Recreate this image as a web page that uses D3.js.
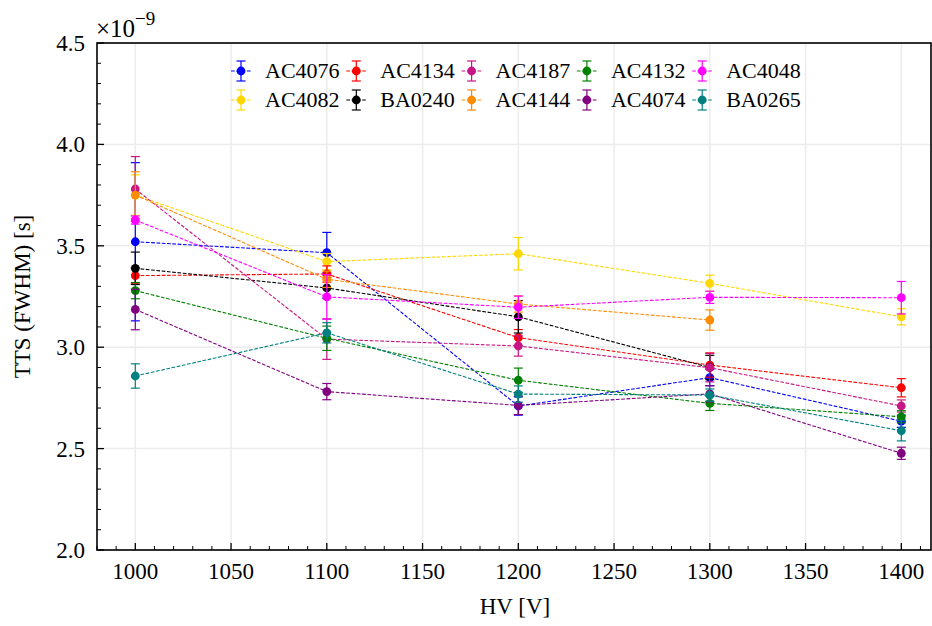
<!DOCTYPE html>
<html>
<head>
<meta charset="utf-8">
<script src="https://cdn.jsdelivr.net/npm/d3@7"></script>
<style>
  body { margin: 0; background: #fff; }
  svg text { font-family: "Liberation Serif", "DejaVu Serif", serif; fill: #000; }
</style>
</head>
<body>
<svg id="chart" width="932" height="626"></svg>
<script>
// HV steps
var voltages = [1000, 1100, 1200, 1300, 1400];

// series names, in plot order (legend fills column by column)
var names = ["AC4076", "AC4082", "AC4134", "BA0240", "AC4187",
             "AC4144", "AC4132", "AC4074", "AC4048", "BA0265"];
var colors = ["#0000ff", "#ffd700", "#ff0000", "#000000", "#c71585",
              "#ff8c00", "#008000", "#800080", "#ff00ff", "#008080"];

// TTS values in units of 1e-9 s (null = not measured)
var tts = [
  [3.52, 3.466, 2.71, 2.85, 2.635],
  [3.75, 3.422, 3.461, 3.315, 3.15],
  [3.353, 3.361, 3.047, 2.912, 2.80],
  [3.389, 3.292, 3.150, 2.90, null],
  [3.78, 3.04, 3.006, 2.899, 2.71],
  [3.75, 3.335, 3.213, 3.134, null],
  [3.279, 3.044, 2.837, 2.723, 2.657],
  [3.186, 2.781, 2.713, 2.77, 2.477],
  [3.627, 3.248, 3.197, 3.246, 3.244],
  [2.858, 3.071, 2.769, 2.764, 2.588]
];
var errs = [
  [0.39, 0.10, 0.045, 0.04, 0.03],
  [0.10, 0.04, 0.08, 0.04, 0.04],
  [0.04, 0.04, 0.04, 0.06, 0.045],
  [0.08, 0.05, 0.08, 0.06, null],
  [0.16, 0.10, 0.05, 0.07, 0.03],
  [0.115, 0.04, 0.04, 0.05, null],
  [0.04, 0.06, 0.06, 0.035, 0.03],
  [0.10, 0.04, 0.045, 0.04, 0.03],
  [0.02, 0.11, 0.055, 0.03, 0.08],
  [0.06, 0.05, 0.04, 0.03, 0.05]
];

var xTicks = [1000, 1050, 1100, 1150, 1200, 1250, 1300, 1350, 1400];
var yTicks = [2.0, 2.5, 3.0, 3.5, 4.0, 4.5];

(function() {
var svg = d3.select("#chart");
var mLeft = 97, mRight = 931, mTop = 43, mBottom = 550;

var x = d3.scaleLinear().domain([980, 1415.5]).range([mLeft, mRight]);
var y = d3.scaleLinear().domain([2.0, 4.5]).range([mBottom, mTop]);

// grid
var grid = svg.append("g");
grid.selectAll(".gx").data(xTicks).enter().append("line")
    .attr("x1", function(d) { return x(d); }).attr("x2", function(d) { return x(d); })
    .attr("y1", mTop).attr("y2", mBottom)
    .attr("stroke", "#ececec").attr("stroke-width", 1.5);
grid.selectAll(".gy").data(yTicks).enter().append("line")
    .attr("y1", function(d) { return y(d); }).attr("y2", function(d) { return y(d); })
    .attr("x1", mLeft).attr("x2", mRight)
    .attr("stroke", "#ececec").attr("stroke-width", 1.5);

// series
var series = names.map(function(n, i) {
    return {
        name: n, color: colors[i],
        pts: voltages.map(function(v, j) {
            return { x: v, y: tts[i][j], e: errs[i][j] };
        }).filter(function(p) { return p.y !== null; })
    };
});

var line = d3.line().x(function(d) { return x(d.x); }).y(function(d) { return y(d.y); });

var g = svg.selectAll(".series").data(series).enter().append("g");

g.append("path")
    .attr("d", function(d) { return line(d.pts); })
    .attr("fill", "none")
    .attr("stroke", function(d) { return d.color; })
    .attr("stroke-width", 1.1)
    .attr("stroke-dasharray", "3.7,1.6");

g.each(function(s) {
    var sel = d3.select(this);
    s.pts.forEach(function(p) {
        var cx = x(p.x);
        sel.append("line").attr("x1", cx).attr("x2", cx)
            .attr("y1", y(p.y - p.e)).attr("y2", y(p.y + p.e))
            .attr("stroke", s.color).attr("stroke-width", 1.2);
        [p.y - p.e, p.y + p.e].forEach(function(v) {
            sel.append("line").attr("x1", cx - 4.5).attr("x2", cx + 4.5)
                .attr("y1", y(v)).attr("y2", y(v))
                .attr("stroke", s.color).attr("stroke-width", 1.2);
        });
        sel.append("circle").attr("cx", cx).attr("cy", y(p.y)).attr("r", 4.4)
            .attr("fill", s.color);
    });
});

// axes: inward ticks
var axes = svg.append("g");
axes.append("rect").attr("x", mLeft).attr("y", mTop)
    .attr("width", mRight - mLeft).attr("height", mBottom - mTop)
    .attr("fill", "none").attr("stroke", "#000").attr("stroke-width", 1.6);

var xMinor = d3.range(980, 1416, 10).filter(function(v) { return v % 50 !== 0; });
var yMinor = d3.range(20, 46).map(function(v) { return v / 10; })
    .filter(function(v) { return Math.round(v * 10) % 5 !== 0; });

axes.selectAll(".xt").data(xTicks).enter().append("line")
    .attr("x1", function(d) { return x(d); }).attr("x2", function(d) { return x(d); })
    .attr("y1", mBottom).attr("y2", mBottom - 7)
    .attr("stroke", "#000").attr("stroke-width", 1.3);
axes.selectAll(".xm").data(xMinor).enter().append("line")
    .attr("x1", function(d) { return x(d); }).attr("x2", function(d) { return x(d); })
    .attr("y1", mBottom).attr("y2", mBottom - 4)
    .attr("stroke", "#000").attr("stroke-width", 1);
axes.selectAll(".yt").data(yTicks).enter().append("line")
    .attr("y1", function(d) { return y(d); }).attr("y2", function(d) { return y(d); })
    .attr("x1", mLeft).attr("x2", mLeft + 7)
    .attr("stroke", "#000").attr("stroke-width", 1.3);
axes.selectAll(".ym").data(yMinor).enter().append("line")
    .attr("y1", function(d) { return y(d); }).attr("y2", function(d) { return y(d); })
    .attr("x1", mLeft).attr("x2", mLeft + 4)
    .attr("stroke", "#000").attr("stroke-width", 1);

axes.selectAll(".xl").data(xTicks).enter().append("text")
    .attr("x", function(d) { return x(d); }).attr("y", mBottom + 29)
    .attr("text-anchor", "middle").attr("font-size", 23)
    .text(function(d) { return d; });
axes.selectAll(".yl").data(yTicks).enter().append("text")
    .attr("x", mLeft - 12).attr("y", function(d) { return y(d) + 8; })
    .attr("text-anchor", "end").attr("font-size", 23)
    .text(function(d) { return d.toFixed(1); });

var sc = svg.append("text").attr("x", 96).attr("y", 37).attr("font-size", 25);
sc.append("tspan").text("\u00d710");
sc.append("tspan").attr("dy", -12).attr("font-size", 19).text("\u22129");

svg.append("text").attr("x", (mLeft + mRight) / 2 + 1).attr("y", 614)
    .attr("text-anchor", "middle").attr("font-size", 23).text("HV [V]");
svg.append("text").attr("transform", "translate(30," + ((mTop + mBottom) / 2) + ") rotate(-90)")
    .attr("text-anchor", "middle").attr("font-size", 23).text("TTS (FWHM) [s]");

// legend, 5 columns x 2 rows, filled column-wise
var leg = svg.append("g");
series.forEach(function(s, i) {
    var col = Math.floor(i / 2), row = i % 2;
    var lx = 241 + col * 115.3, ly = 71 + row * 29;
    var e = leg.append("g");
    e.append("line").attr("x1", lx - 10).attr("x2", lx + 10).attr("y1", ly).attr("y2", ly)
        .attr("stroke", s.color).attr("stroke-width", 1).attr("stroke-dasharray", "3.7,1.6");
    e.append("line").attr("x1", lx).attr("x2", lx).attr("y1", ly - 10).attr("y2", ly + 10)
        .attr("stroke", s.color).attr("stroke-width", 1.2);
    [ly - 10, ly + 10].forEach(function(cy) {
        e.append("line").attr("x1", lx - 4.5).attr("x2", lx + 4.5).attr("y1", cy).attr("y2", cy)
            .attr("stroke", s.color).attr("stroke-width", 1.2);
    });
    e.append("circle").attr("cx", lx).attr("cy", ly).attr("r", 4.4).attr("fill", s.color);
    e.append("text").attr("x", lx + 24).attr("y", ly + 7).attr("font-size", 22).text(s.name);
});
})();
</script>
</body>
</html>
